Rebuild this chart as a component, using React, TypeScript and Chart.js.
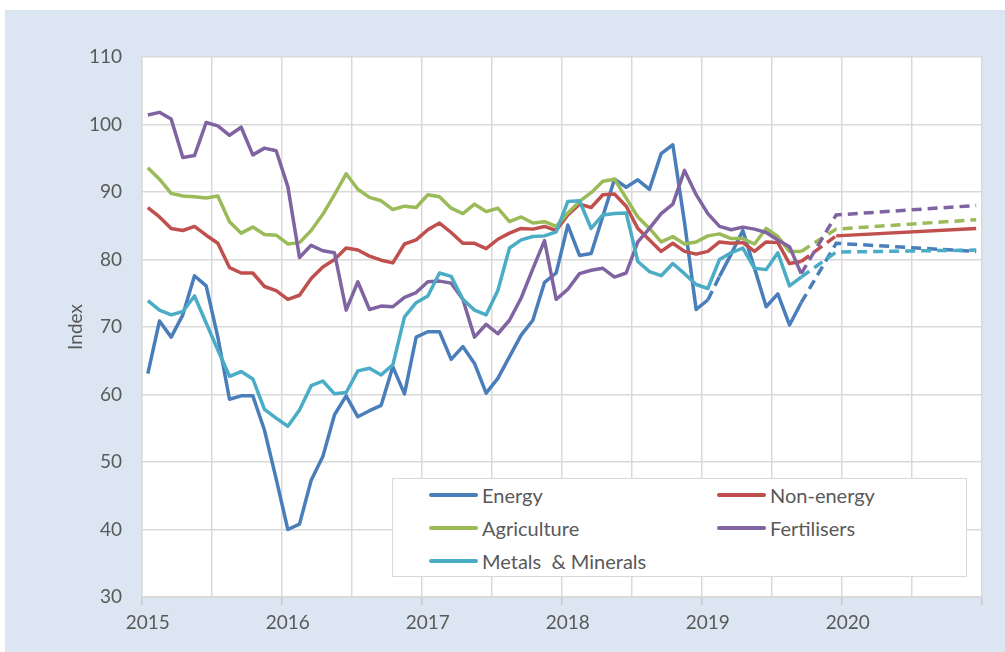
import { useEffect, useRef } from 'react';
import { Chart, registerables } from 'chart.js';

Chart.register(...registerables);

// Monthly actuals, Jan 2015 – Sep 2019
const energy = [63.1, 70.9, 68.5, 71.8, 77.6, 76.1, 68.5, 59.3, 59.8, 59.8, 54.7, 47.5,
  40.0, 40.8, 47.3, 50.8, 57.0, 59.8, 56.7, 57.6, 58.4, 64.1, 60.1, 68.5,
  69.3, 69.3, 65.2, 67.1, 64.6, 60.2, 62.4, 65.6, 68.8, 71.0, 76.6, 78.0,
  85.1, 80.6, 80.9, 86.4, 91.9, 90.7, 91.8, 90.4, 95.7, 97.0, 85.5, 72.6,
  74.0, 77.5, 80.8, 84.3, 78.7, 73.0, 74.9, 70.3, 73.6];
const nonEnergy = [87.7, 86.3, 84.6, 84.3, 84.9, 83.6, 82.4, 78.8, 78.0, 78.0, 76.0, 75.4,
  74.1, 74.7, 77.2, 78.9, 80.0, 81.7, 81.4, 80.5, 79.9, 79.5, 82.3, 82.9,
  84.4, 85.4, 84.0, 82.4, 82.4, 81.6, 83.0, 83.9, 84.6, 84.5, 84.9, 84.3,
  86.6, 88.2, 87.7, 89.6, 89.7, 87.9, 84.6, 82.9, 81.2, 82.4, 81.2, 80.8,
  81.2, 82.6, 82.4, 82.5, 81.2, 82.6, 82.5, 79.4, 79.7];
const agriculture = [93.6, 91.9, 89.8, 89.4, 89.3, 89.1, 89.4, 85.6, 83.9, 84.8, 83.7, 83.6,
  82.3, 82.5, 84.3, 86.7, 89.6, 92.7, 90.4, 89.2, 88.7, 87.4, 87.9, 87.7,
  89.6, 89.3, 87.6, 86.8, 88.2, 87.1, 87.6, 85.6, 86.3, 85.4, 85.6, 84.9,
  86.9, 88.6, 89.9, 91.6, 91.9, 89.1, 86.3, 84.6, 82.6, 83.4, 82.3, 82.6,
  83.5, 83.8, 83.1, 83.1, 82.3, 84.6, 83.4, 81.2, 81.2];
const fertilisers = [101.4, 101.8, 100.8, 95.1, 95.4, 100.3, 99.8, 98.4, 99.6, 95.5, 96.5, 96.1,
  90.8, 80.3, 82.1, 81.3, 81.0, 72.5, 76.7, 72.6, 73.1, 73.0, 74.4, 75.1,
  76.7, 76.8, 76.5, 74.1, 68.5, 70.4, 69.0, 71.0, 74.3, 78.6, 82.8, 74.1,
  75.6, 77.9, 78.4, 78.7, 77.4, 78.0, 82.6, 84.6, 86.8, 88.2, 93.2, 89.6,
  86.8, 84.9, 84.4, 84.8, 84.5, 84.0, 82.9, 81.9, 77.9];
const metals = [73.9, 72.5, 71.8, 72.3, 74.6, 70.6, 66.6, 62.7, 63.4, 62.3, 57.8, 56.5,
  55.3, 57.7, 61.3, 62.0, 60.1, 60.3, 63.5, 63.9, 62.9, 64.4, 71.5, 73.6,
  74.6, 78.0, 77.5, 74.1, 72.5, 71.8, 75.4, 81.7, 82.9, 83.4, 83.5, 84.1,
  88.6, 88.7, 84.6, 86.6, 86.8, 86.9, 79.7, 78.2, 77.6, 79.4, 77.9, 76.3,
  75.7, 80.0, 81.0, 81.7, 78.7, 78.5, 81.0, 76.1, 77.4];

// Forecast: Sep 2019, Dec 2019, Dec 2020
const forecastMonths = [56, 59, 71];
const energyF = [73.6, 82.4, 81.2];
const nonEnergyF = [79.7, 83.5, 84.6];
const agricultureF = [81.2, 84.5, 85.9];
const fertilisersF = [77.9, 86.6, 88.0];
const metalsF = [77.4, 81.1, 81.4];

const yearLabels = ['2015', '2016', '2017', '2018', '2019', '2020'];
const seriesNames = ['Energy', 'Non-energy', 'Agriculture', 'Fertilisers', 'Metals  & Minerals'];
const colors = ['#4a7ebb', '#c0504d', '#9bbb59', '#8064a2', '#4bacc6'];

const TEXT = '#595959';
const GRID = '#d9d9d9';
const FONT = 'Lato';
const DASH = [10, 6];

function toPts(vals: number[]) {
  return vals.map((v, i) => ({ x: i + 0.5, y: v }));
}
function toFPts(vals: number[]) {
  return vals.map((v, i) => ({ x: forecastMonths[i] + 0.5, y: v }));
}

const whiteArea = {
  id: 'whiteArea',
  beforeDraw(chart: any) {
    const { ctx, chartArea } = chart;
    ctx.save();
    ctx.fillStyle = '#ffffff';
    ctx.fillRect(chartArea.left, chartArea.top, chartArea.right - chartArea.left, chartArea.bottom - chartArea.top);
    ctx.restore();
  },
};

export default function App() {
  const ref = useRef<HTMLCanvasElement | null>(null);

  useEffect(() => {
    if (!ref.current) return;
    const actual = [energy, nonEnergy, agriculture, fertilisers, metals];
    const fc = [energyF, nonEnergyF, agricultureF, fertilisersF, metalsF];
    const datasets: any[] = [];
    actual.forEach((vals, k) => {
      datasets.push({
        label: seriesNames[k],
        data: toPts(vals),
        borderColor: colors[k],
        borderWidth: 3.5,
        pointRadius: 0,
        tension: 0,
        borderJoinStyle: 'round',
        order: 10 - k,
        segment: k === 0 ? { borderDash: (c: any) => (c.p0DataIndex === 48 ? DASH : undefined) } : undefined,
      });
    });
    fc.forEach((vals, k) => {
      datasets.push({
        label: seriesNames[k] + ' forecast',
        data: toFPts(vals),
        borderColor: colors[k],
        borderWidth: 3.5,
        pointRadius: 0,
        tension: 0,
        borderDash: DASH,
        order: 5 - k,
        segment: k === 1 ? { borderDash: (c: any) => (c.p0DataIndex === 0 ? DASH : []) } : undefined,
      });
    });

    const chart = new Chart(ref.current, {
      type: 'line',
      data: { datasets },
      plugins: [whiteArea],
      options: {
        animation: false,
        responsive: false,
        events: [],
        layout: { padding: { left: 0, top: 57, right: 23, bottom: 0 } },
        plugins: { legend: { display: false }, tooltip: { enabled: false } },
        scales: {
          x: {
            type: 'linear',
            min: 0,
            max: 72,
            afterFit: (s: any) => { s.height = 55; },
            ticks: {
              stepSize: 6,
              autoSkip: false,
              maxRotation: 0,
              labelOffset: 5.83,
              padding: 6,
              color: TEXT,
              font: { family: FONT, size: 19 },
              callback: (v: any) => (v % 12 === 0 && v < 72 ? yearLabels[v / 12] : ''),
            },
            grid: {
              color: GRID,
              lineWidth: 1.5,
              tickLength: 8,
              tickColor: (c: any) => (c.tick && c.tick.value % 12 === 0 ? '#c8c8c8' : 'rgba(0,0,0,0)'),
            },
            border: { color: GRID, width: 1.5 },
          },
          y: {
            min: 30,
            max: 110,
            afterFit: (s: any) => { s.width = 142; },
            ticks: {
              stepSize: 10,
              padding: 20,
              color: TEXT,
              font: { family: FONT, size: 19 },
            },
            grid: { color: GRID, lineWidth: 1.5, drawTicks: false },
            border: { color: GRID, width: 1.5 },
            title: {
              display: true,
              text: 'Index',
              color: TEXT,
              font: { family: FONT, size: 19 },
              padding: { top: 64, bottom: 0 },
            },
          },
        },
      },
    } as any);
    return () => chart.destroy();
  }, []);

  const legendItems = [
    { name: seriesNames[0], color: colors[0], x: 36, y: 16 },
    { name: seriesNames[1], color: colors[1], x: 324, y: 16 },
    { name: seriesNames[2], color: colors[2], x: 36, y: 49 },
    { name: seriesNames[3], color: colors[3], x: 324, y: 49 },
    { name: seriesNames[4], color: colors[4], x: 36, y: 82 },
  ];

  return (
    <div style={{ position: 'fixed', left: 0, top: 0, width: 1005, height: 652, background: '#ffffff' }}>
      <div style={{ position: 'absolute', left: 5, top: 10, right: 0, bottom: 0, background: '#dce6f2' }} />
      <canvas ref={ref} width={1005} height={652} style={{ position: 'absolute', left: 0, top: 0, width: 1005, height: 652 }} />
      <div style={{
        position: 'absolute', left: 392, top: 478, width: 575, height: 99, boxSizing: 'border-box',
        background: '#ffffff', border: '1.5px solid #d9d9d9', fontFamily: FONT, fontSize: 20, color: TEXT,
      }}>
        {legendItems.map((it) => (
          <div key={it.name} style={{ position: 'absolute', left: it.x, top: it.y - 12, height: 24, display: 'flex', alignItems: 'center', whiteSpace: 'pre' }}>
            <div style={{ width: 49, height: 4, background: it.color, borderRadius: 2, marginRight: 4 }} />
            <span style={{ lineHeight: '24px' }}>{it.name}</span>
          </div>
        ))}
      </div>
    </div>
  );
}
